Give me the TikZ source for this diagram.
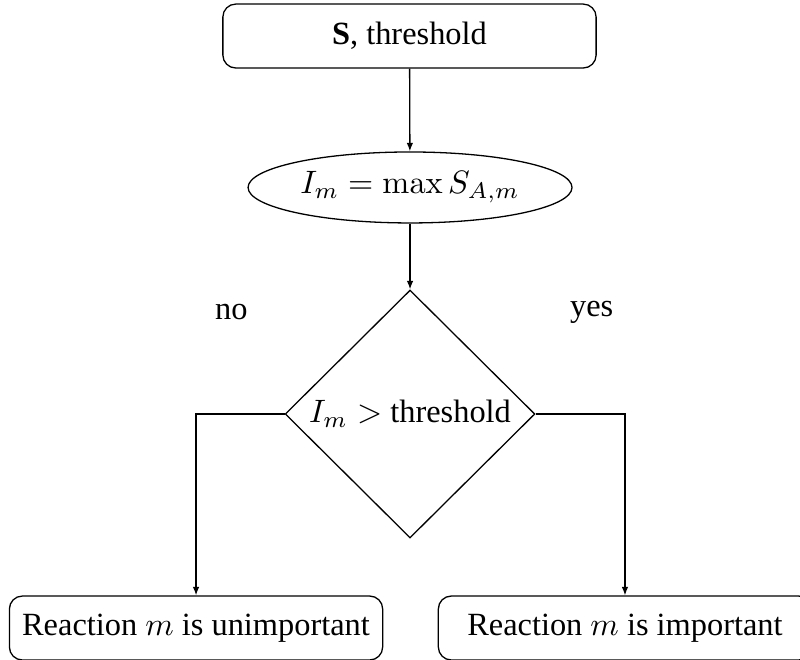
\documentclass[tikz,border=0pt]{standalone}
\usepackage[no-math]{fontspec}
\setmainfont{Liberation Serif}
\usetikzlibrary{shapes.geometric, arrows.meta}

\begin{document}
\begin{tikzpicture}[>={Latex[length=2.6pt, width=2pt]},
		box/.style={draw, rounded corners, minimum width=4.05cm, minimum height=0.694cm},
		oval/.style={draw, ellipse, minimum width=3.515cm, minimum height=0.77cm, inner sep=0pt},
		test/.style={draw, diamond, aspect=1, minimum width=2.71cm, minimum height=2.69cm, inner sep=0pt},
		elbow/.style={to path={-| (\tikztotarget)}}]
			\useasboundingbox (0, 0) rectangle (8.68, -7.161);

			\node[box] at (4.443, -0.391) (input) {\textbf{S}, threshold};
			\node[oval] at (4.449, -2.034) (imax) {$I_m = \max S_{A,m}$};
			\node[test] at (4.449, -4.492) (check) {$I_m >$ threshold};

			\node[box] at (2.127, -6.814) (unimp) {Reaction $m$ is unimportant};
			\node[box] at (6.781, -6.814) (imp) {Reaction $m$ is important};

			\node at (2.51, -3.385) (no) {no};
			\node at (6.42, -3.385) (yes) {yes};

			\path
			(input) edge[->] (imax)
			(imax) edge[->] (check)
			(check.west) edge[->, elbow] (unimp)
			(check.east) edge[->, elbow] (imp);
		\end{tikzpicture}
\end{document}
